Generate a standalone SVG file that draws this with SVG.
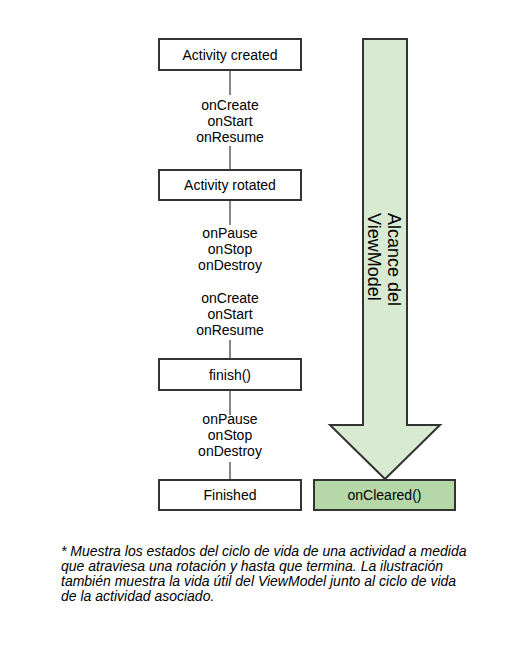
<svg xmlns="http://www.w3.org/2000/svg" width="531" height="655" viewBox="0 0 531 655">
<style>
.box{fill:#ffffff;stroke:#333333;stroke-width:2}
.lbl{font-family:"Liberation Sans",Arial,sans-serif;font-size:14px;fill:#000;text-anchor:middle}
.conn{stroke:#888888;stroke-width:2;fill:none}
.cap{font-family:"Liberation Sans",Arial,sans-serif;font-size:14px;font-style:italic;fill:#000}
</style>
<rect width="531" height="655" fill="#ffffff"/>
<g id="connectors">
<line class="conn" x1="230" y1="70" x2="230" y2="95"/>
<line class="conn" x1="230" y1="146" x2="230" y2="170"/>
<line class="conn" x1="230" y1="200" x2="230" y2="225"/>
<line class="conn" x1="230" y1="340" x2="230" y2="359"/>
<line class="conn" x1="230" y1="390" x2="230" y2="415"/>
<line class="conn" x1="230" y1="462" x2="230" y2="480"/>
<text class="lbl" x="230" y="110">onCreate</text>
<text class="lbl" x="230" y="126">onStart</text>
<text class="lbl" x="230" y="142">onResume</text>
<text class="lbl" x="230" y="238">onPause</text>
<text class="lbl" x="230" y="254">onStop</text>
<text class="lbl" x="230" y="270">onDestroy</text>
<text class="lbl" x="230" y="303">onCreate</text>
<text class="lbl" x="230" y="319">onStart</text>
<text class="lbl" x="230" y="335">onResume</text>
<text class="lbl" x="230" y="424">onPause</text>
<text class="lbl" x="230" y="440">onStop</text>
<text class="lbl" x="230" y="456">onDestroy</text>
</g>
<g id="activity-created">
<rect class="box" x="159" y="39" width="142" height="31"/>
<text class="lbl" x="230" y="60">Activity created</text>
</g>
<g id="activity-rotated">
<rect class="box" x="159" y="170" width="142" height="30"/>
<text class="lbl" x="230" y="190">Activity rotated</text>
</g>
<g id="finish">
<rect class="box" x="159" y="359" width="142" height="31"/>
<text class="lbl" x="230" y="380">finish()</text>
</g>
<g id="finished">
<rect class="box" x="159" y="480" width="142" height="30"/>
<text class="lbl" x="230" y="500">Finished</text>
</g>
<g id="viewmodel-scope">
<path d="M363,39 L407,39 L407,425 L440,425 L385,479 L330,425 L363,425 Z" fill="#d9ead3" stroke="#333333" stroke-width="2" stroke-linejoin="miter"/>
<g font-family="'Liberation Sans',Arial,sans-serif" font-size="18" fill="#000">
<text transform="translate(388,213) rotate(90)" x="0" y="0">Alcance del</text>
<text transform="translate(368,213) rotate(90)" x="0" y="0">ViewModel</text>
</g>
</g>
<g id="oncleared">
<rect x="314" y="480" width="141" height="30" fill="#b6d7a8" stroke="#333333" stroke-width="2"/>
<text class="lbl" x="384.5" y="500">onCleared()</text>
</g>
<g id="caption">
<text class="cap" x="61" y="556">* Muestra los estados del ciclo de vida de una actividad a medida</text>
<text class="cap" x="61" y="571">que atraviesa una rotación y hasta que termina. La ilustración</text>
<text class="cap" x="61" y="586">también muestra la vida útil del ViewModel junto al ciclo de vida</text>
<text class="cap" x="61" y="601">de la actividad asociado.</text>
</g>
</svg>
